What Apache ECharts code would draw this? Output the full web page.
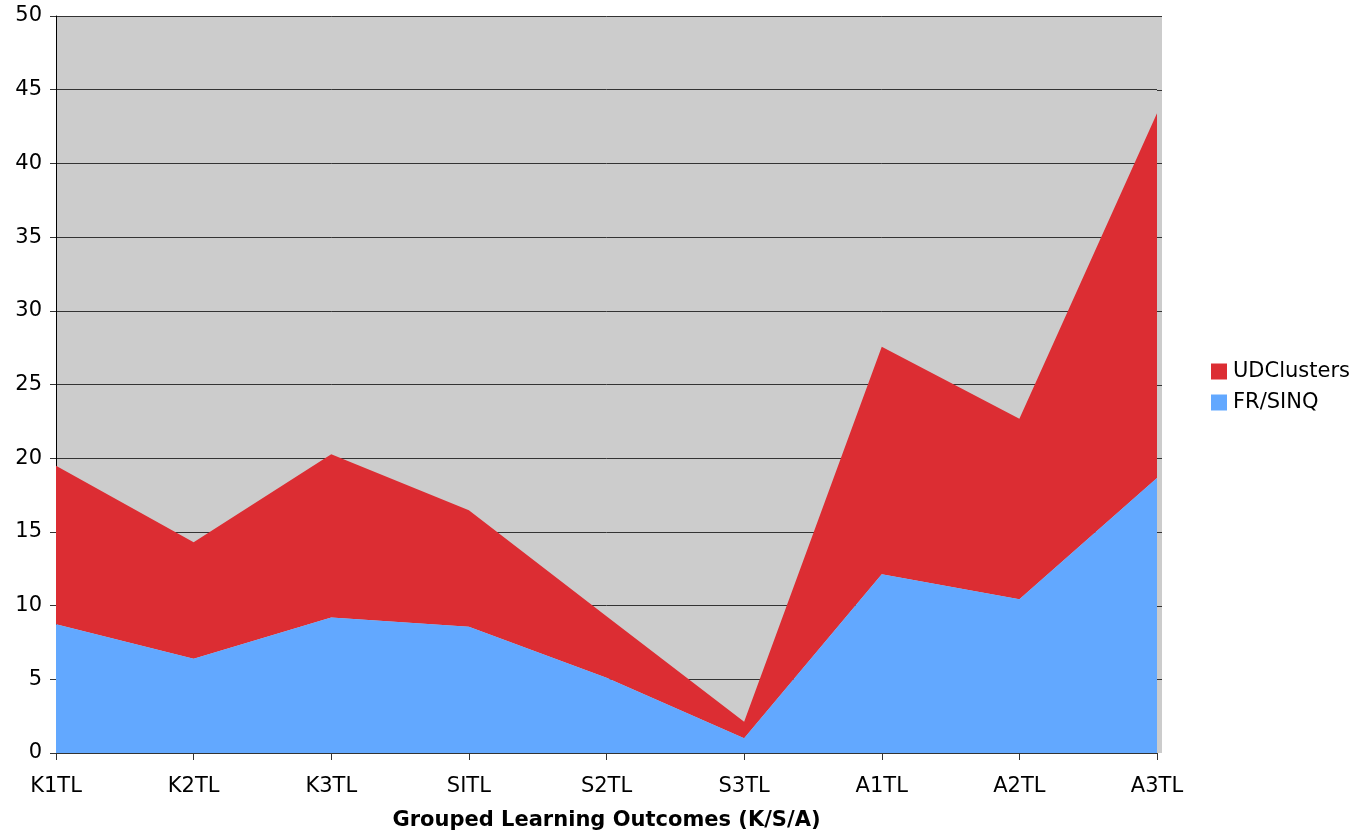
<!DOCTYPE html>
<html>
<head>
<meta charset="utf-8">
<title>Grouped Learning Outcomes</title>
<script src="https://cdn.jsdelivr.net/npm/echarts@6/dist/echarts.min.js"></script>
<style>
  html, body { margin: 0; padding: 0; background: #ffffff; }
  #chart { width: 1362px; height: 832px; }
</style>
</head>
<body>
<div id="chart"></div>
<script>
// Learning-outcome groups along the horizontal axis
const categories = ['K1TL', 'K2TL', 'K3TL', 'SITL', 'S2TL', 'S3TL', 'A1TL', 'A2TL', 'A3TL'];

// Stacked series (bottom layer first)
const frSinq     = [8.73, 6.4, 9.2, 8.57, 5.1, 1.0, 12.12, 10.43, 18.66];
const udClusters = [10.76, 7.89, 11.06, 7.9, 4.18, 1.12, 15.44, 12.25, 24.74];

// Value axis range
const yMin = 0, yMax = 50, yStep = 5;

const FONT = 'DejaVu Sans, Verdana, sans-serif';

const chart = echarts.init(document.getElementById('chart'), null, { renderer: 'canvas' });

chart.setOption({
  animation: false,
  backgroundColor: '#ffffff',
  textStyle: { fontFamily: FONT },
  grid: {
    left: 56, right: 205, top: 16, bottom: 79,
    outerBoundsMode: 'none',
    containLabel: false,
    show: true,
    backgroundColor: '#cccccc',
    borderWidth: 0
  },
  legend: {
    orient: 'vertical',
    left: 1211,
    top: 361,
    padding: 0,
    itemWidth: 16,
    itemHeight: 16,
    itemGap: 10,
    icon: 'rect',
    data: ['UDClusters', 'FR/SINQ'],
    textStyle: { fontFamily: FONT, fontSize: 21, color: '#000000', padding: [0, 0, 0, 1] }
  },
  xAxis: {
    type: 'category',
    data: categories,
    boundaryGap: false,
    name: 'Grouped Learning Outcomes (K/S/A)',
    nameLocation: 'middle',
    nameGap: 57,
    nameTextStyle: { fontFamily: FONT, fontSize: 21, fontWeight: 'bold', color: '#000000' },
    axisLine: { show: true, lineStyle: { color: '#333333', width: 1 } },
    axisTick: { show: true, alignWithLabel: true, length: 7, inside: false, lineStyle: { color: '#333333' } },
    axisLabel: { fontFamily: FONT, fontSize: 21, color: '#000000', margin: 23 },
    splitLine: { show: false }
  },
  yAxis: {
    type: 'value',
    min: yMin,
    max: yMax,
    interval: yStep,
    axisLine: { show: true, lineStyle: { color: '#000000', width: 1 } },
    axisTick: { show: true, length: 6, lineStyle: { color: '#333333' } },
    axisLabel: { fontFamily: FONT, fontSize: 21, color: '#000000', margin: 14 },
    splitLine: { show: true, lineStyle: { color: '#333333', width: 1 } }
  },
  series: [
    {
      name: 'FR/SINQ',
      type: 'line',
      stack: 'total',
      data: frSinq,
      symbol: 'none',
      lineStyle: { width: 0 },
      itemStyle: { color: '#62a8ff' },
      areaStyle: { color: '#62a8ff', opacity: 1 },
      z: 3
    },
    {
      name: 'UDClusters',
      type: 'line',
      stack: 'total',
      data: udClusters,
      symbol: 'none',
      lineStyle: { width: 0 },
      itemStyle: { color: '#dc2d33' },
      areaStyle: { color: '#dc2d33', opacity: 1 },
      z: 2
    }
  ]
});

// Plot backdrop continues a few pixels past the last category
const xEnd = chart.convertToPixel({ xAxisIndex: 0 }, categories[categories.length - 1]);
const yTop = chart.convertToPixel({ yAxisIndex: 0 }, yMax);
const yBot = chart.convertToPixel({ yAxisIndex: 0 }, yMin);
const strip = [{
  type: 'rect',
  shape: { x: xEnd, y: yTop, width: 5, height: yBot - yTop },
  style: { fill: '#cccccc' },
  z: -1
}];
for (let v = yMin + yStep; v <= yMax; v += yStep) {
  const py = Math.round(chart.convertToPixel({ yAxisIndex: 0 }, v)) + 0.5;
  strip.push({
    type: 'line',
    shape: { x1: xEnd, y1: py, x2: xEnd + 5, y2: py },
    style: { stroke: '#333333', lineWidth: 1 },
    z: -1
  });
}
chart.setOption({ graphic: strip });
</script>
</body>
</html>
